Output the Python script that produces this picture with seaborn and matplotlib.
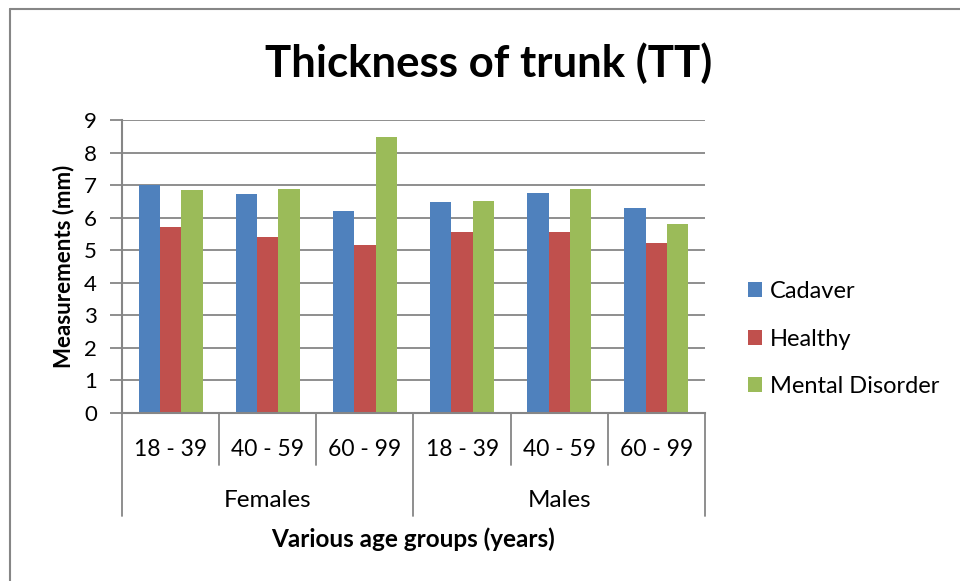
import matplotlib
matplotlib.use("Agg")
import matplotlib.pyplot as plt
import matplotlib.lines as mlines
import seaborn as sns
import pandas as pd

# Data
sexes = ["Females", "Males"]
age_groups = ["18 - 39", "40 - 59", "60 - 99"]
series = ["Cadaver", "Healthy", "Mental Disorder"]
cadaver = [7.0, 6.73, 6.21, 6.49, 6.77, 6.29]
healthy = [5.71, 5.41, 5.15, 5.56, 5.55, 5.21]
mental_disorder = [6.86, 6.88, 8.49, 6.5, 6.87, 5.8]
y_ticks = [0, 1, 2, 3, 4, 5, 6, 7, 8, 9]

colors = ["#4F81BD", "#C0504D", "#9BBB59"]
grey = "#868686"

categories = [f"{s} {a}" for s in sexes for a in age_groups]
rows = []
for name, vals in zip(series, [cadaver, healthy, mental_disorder]):
    for cat, v in zip(categories, vals):
        rows.append({"category": cat, "series": name, "value": v})
df = pd.DataFrame(rows)

sns.set_theme(style="white")
plt.rcParams["font.family"] = ["Lato", "DejaVu Sans"]
plt.rcParams["text.color"] = "black"

fig = plt.figure(figsize=(9.6, 5.81), dpi=100)
ax = fig.add_axes([122 / 960, 1 - 413 / 581, (705 - 122) / 960, (413 - 120) / 581])

sns.barplot(data=df, x="category", y="value", hue="series", order=categories,
            hue_order=series, palette=colors, width=0.66, saturation=1,
            edgecolor="none", ax=ax, legend=True)

ax.set_ylim(0, 9)
ax.set_xlim(-0.5, 5.5)
ax.set_yticks(y_ticks)
ax.set_yticklabels([str(t) for t in y_ticks], fontsize=16)
ax.yaxis.grid(True, color=grey, linewidth=1.3)
ax.set_axisbelow(True)
ax.tick_params(axis="y", which="major", length=9, width=1.3, color=grey,
               left=True, pad=9, labelcolor="black")
ax.tick_params(axis="x", length=0, labelbottom=False)
for side in ["top", "right"]:
    ax.spines[side].set_visible(False)
for side in ["left", "bottom"]:
    ax.spines[side].set_color(grey)
    ax.spines[side].set_linewidth(1.5)
ax.set_xlabel("")
ax.set_ylabel("Measurements (mm)", fontsize=16, fontweight="bold", labelpad=7,
              color="black")

# Two-level category axis
trans = ax.get_xaxis_transform()
for i, cat in enumerate(categories):
    ax.text(i, -0.123, age_groups[i % 3], transform=trans, ha="center",
            va="center", fontsize=16.5)
for x in [0.5, 1.5, 3.5, 4.5]:
    ax.plot([x, x], [0, -0.177], transform=trans, color=grey, lw=1.3,
            clip_on=False)
for x in [-0.5, 2.5, 5.5]:
    ax.plot([x, x], [0, -0.352], transform=trans, color=grey, lw=1.3,
            clip_on=False)
for j, s in enumerate(sexes):
    ax.text(1 + 3 * j, -0.297, s, transform=trans, ha="center", va="center",
            fontsize=17.5)
ax.text(0.5, -0.43, "Various age groups (years)", transform=ax.transAxes,
        ha="center", va="center", fontsize=17.5, fontweight="bold")

# Title
fig.text(489 / 960, 1 - 63 / 581, "Thickness of trunk (TT)", ha="center",
         va="center", fontsize=31.5, fontweight="bold")

# Legend
handles, labels = ax.get_legend_handles_labels()
ax.legend(handles, labels, loc="center left",
          bbox_to_anchor=(727 / 960, 1 - 339 / 581), bbox_transform=fig.transFigure,
          frameon=False, fontsize=17, handlelength=0.6, handleheight=0.6,
          handletextpad=0.3, labelspacing=1.12, labelcolor="black")

# Chart frame
fig.add_artist(mlines.Line2D([9.5 / 960, 9.5 / 960], [-0.1, 1 - 8.5 / 581],
                             transform=fig.transFigure, color=grey, lw=1.5))
fig.add_artist(mlines.Line2D([9.5 / 960, 1.1], [1 - 8.5 / 581, 1 - 8.5 / 581],
                             transform=fig.transFigure, color=grey, lw=1.5))

fig.savefig("out.png", dpi=100, facecolor="white")
